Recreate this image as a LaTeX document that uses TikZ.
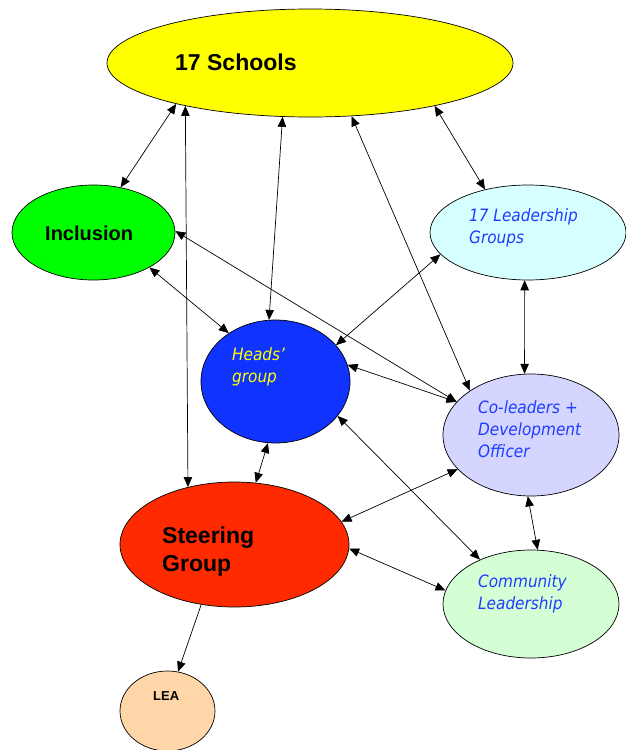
\documentclass[tikz,border=0pt]{standalone}
\usepackage{fontspec}
\setmainfont{Liberation Sans}
\newfontfamily\tahit{DejaVu Sans Condensed Oblique}
\usetikzlibrary{shapes.geometric,arrows.meta}
\definecolor{cYel}{HTML}{FFFF00}
\definecolor{cGreen}{HTML}{00FF00}
\definecolor{cCyan}{HTML}{D6FFFF}
\definecolor{cBlue}{HTML}{1133FF}
\definecolor{cLav}{HTML}{D4D6FF}
\definecolor{cRed}{HTML}{FF2A00}
\definecolor{cMint}{HTML}{D4FFD4}
\definecolor{cPeach}{HTML}{FFD6A8}
\definecolor{cText}{HTML}{1F3CFF}
\tikzset{
  ell/.style={ellipse, draw=black, line width=0.7pt, inner sep=0pt},
  tip/.tip={Triangle[length=10pt,width=8.5pt]},
  bi/.style={tip-tip, line width=0.7pt},
  one/.style={-tip, line width=0.7pt},
  bt/.style={anchor=base west, inner sep=0pt, align=left},
  boldtxt/.style={bt, font=\bfseries\fontsize{#1}{28}\selectfont},
  bluetxt/.style={bt, text=cText, font=\tahit\fontsize{17}{22}\selectfont},
}
\begin{document}
\begin{tikzpicture}[x=1pt,y=-1pt]
\useasboundingbox (0,0) rectangle (626,750);
% ellipses
\node[ell, fill=cYel,   minimum width=406pt, minimum height=108pt] (schools) at (310,63) {};
\node[ell, fill=cGreen, minimum width=163pt, minimum height=95pt]  (incl)    at (93.5,232.5) {};
\node[ell, fill=cCyan,  minimum width=196pt, minimum height=95pt]  (leader)  at (528,232.5) {};
\node[ell, fill=cBlue,  minimum width=149pt, minimum height=123pt] (heads)   at (275.5,381.5) {};
\node[ell, fill=cLav,   minimum width=176pt, minimum height=122pt] (cold)    at (531,435) {};
\node[ell, fill=cRed,   minimum width=229pt, minimum height=125pt] (steer)   at (234.5,544.5) {};
\node[ell, fill=cMint,  minimum width=176pt, minimum height=108pt] (comm)    at (531,604) {};
\node[ell, fill=cPeach, minimum width=95pt,  minimum height=80pt]  (lea)     at (167.5,711) {};
% texts (base anchor = baseline of the last line)
\node[boldtxt=23] (tSchools) at (175,70) {17 Schools};
\node[boldtxt=20] (tIncl) at (45,240) {Inclusion};
\node[boldtxt=23] (tSteer) at (162,571) {Steering\\Group};
\node[boldtxt=13] (tLea) at (153,700) {LEA};
\node[bluetxt] (tLeader) at (469,243) {17 Leadership\\Groups};
\node[bluetxt, text=cYel] (tHeads) at (232,382) {Heads’\\group};
\node[bluetxt] (tCold) at (478,457) {Co-leaders +\\Development\\Officer};
\node[bluetxt] (tComm) at (478,609) {Community\\Leadership};
% connectors
\draw[bi] (schools.197) -- (incl.59);
\draw[bi] (schools.199) -- (steer.129);
\draw[bi] (schools.243) -- (heads.96);
\draw[bi] (schools.308) -- (cold.144);
\draw[bi] (schools.341) -- (leader.135);
\draw[bi] (incl.1) -- (cold.156);
\draw[bi] (incl.328) -- (heads.134);
\draw[bi] (leader.194) -- (heads.31);
\draw[bi] (leader.266) -- (cold.96);
\draw[bi] (heads.13) -- (cold.156);
\draw[bi] (heads.263) -- (steer.71);
\draw[bi] (heads.331) -- (comm.139);
\draw[bi] (cold.205) -- (steer.12);
\draw[bi] (cold.267) -- (comm.83);
\draw[bi] (steer.358) -- (comm.171);
\draw[one] (steer.241) -- (lea.75);
\end{tikzpicture}
\end{document}
